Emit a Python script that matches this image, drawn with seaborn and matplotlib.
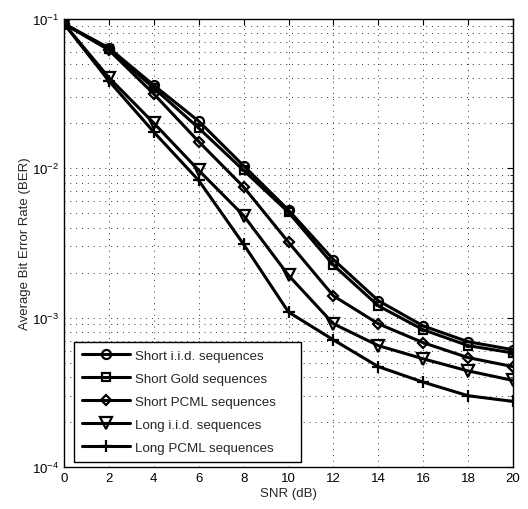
import numpy as np
import pandas as pd
import matplotlib
matplotlib.use("Agg")
import matplotlib.pyplot as plt
import seaborn as sns
from matplotlib.ticker import LogLocator, FixedLocator

snr = [0, 2, 4, 6, 8, 10, 12, 14, 16, 18, 20]
short_iid = [0.093, 0.064, 0.0360, 0.0207, 0.0104, 0.00525, 0.00245, 0.00130, 0.00088, 0.00069, 0.00061]
short_gold = [0.093, 0.063, 0.0345, 0.0186, 0.0097, 0.00508, 0.00225, 0.00120, 0.00083, 0.00065, 0.00058]
short_pcml = [0.093, 0.062, 0.0315, 0.0151, 0.0075, 0.00320, 0.00140, 0.00091, 0.00068, 0.00054, 0.00047]
long_iid = [0.093, 0.0405, 0.0201, 0.0097, 0.00483, 0.00192, 0.00091, 0.00065, 0.00053, 0.00044, 0.00038]
long_pcml = [0.093, 0.0385, 0.0175, 0.0083, 0.0031, 0.00109, 0.00071, 0.00047, 0.00037, 0.00030, 0.000275]

names = ["Short i.i.d. sequences", "Short Gold sequences", "Short PCML sequences",
         "Long i.i.d. sequences", "Long PCML sequences"]
series = [short_iid, short_gold, short_pcml, long_iid, long_pcml]
markers = ["o", "s", "D", "v", "+"]
msizes = [6.5, 6, 5.5, 8, 9]

rows = []
for n, s in zip(names, series):
    for x, y in zip(snr, s):
        rows.append({"SNR": x, "BER": y, "Series": n})
df = pd.DataFrame(rows)

sns.set_style("white")
plt.rcParams["font.family"] = ["Liberation Sans", "DejaVu Sans"]
plt.rcParams["mathtext.fontset"] = "custom"
plt.rcParams["mathtext.rm"] = "Liberation Sans"
plt.rcParams["mathtext.it"] = "Liberation Sans:italic"

fig = plt.figure(figsize=(5.28, 5.10), dpi=100)
ax = fig.add_axes([64/528, 1-468/510, (513-64)/528, (468-20)/510])

for n, m, ms in zip(names, markers, msizes):
    sub = df[df["Series"] == n]
    sns.lineplot(data=sub, x="SNR", y="BER", ax=ax, color="black", lw=2.2,
                 marker=m, markersize=ms, markerfacecolor="none",
                 markeredgecolor="black", markeredgewidth=1.6, label=n)

ax.set_yscale("log")
ax.set_xlim(0, 20)
ax.set_ylim(1e-4, 1e-1)
ax.xaxis.set_major_locator(FixedLocator(snr))
ax.yaxis.set_major_locator(LogLocator(base=10, numticks=10))
ax.yaxis.set_minor_locator(LogLocator(base=10, subs=np.arange(2, 10), numticks=20))

ax.grid(True, which="major", axis="both", color="#333333", linestyle=(0, (1, 5)), lw=0.7)
ax.grid(True, which="minor", axis="y", color="#333333", linestyle=(0, (1, 5)), lw=0.7)

for sp in ax.spines.values():
    sp.set_visible(True)
    sp.set_color("black")
    sp.set_linewidth(1.0)

ax.tick_params(axis="both", which="both", direction="in", top=True, right=True,
               labelsize=9.5, colors="black")
ax.tick_params(which="major", length=4)
ax.tick_params(which="minor", length=2)

ax.set_xlabel("SNR (dB)", fontsize=9.5, labelpad=2)
ax.set_ylabel("Average Bit Error Rate (BER)", fontsize=9.5, labelpad=1)

leg = ax.legend(loc="lower left", fontsize=9.6, frameon=True, fancybox=False,
                edgecolor="black", handlelength=3.6, handletextpad=0.4,
                borderpad=0.6, borderaxespad=0.0, mode="expand",
                labelspacing=0.8, bbox_to_anchor=(0.022, 0.011, 0.506, 0.25))
leg.get_frame().set_linewidth(1.0)
leg.get_frame().set_alpha(1)

fig.savefig("out.png", dpi=100)
